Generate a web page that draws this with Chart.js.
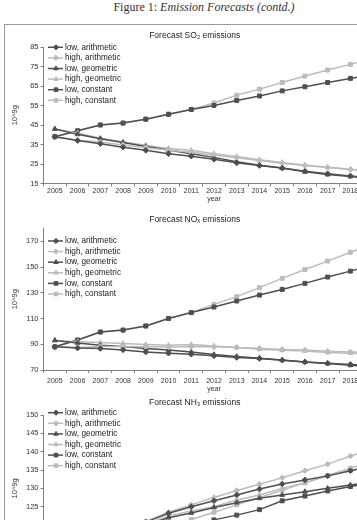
<!DOCTYPE html>
<html><head><meta charset="utf-8">
<script src="https://cdn.jsdelivr.net/npm/chart.js@4/dist/chart.umd.min.js"></script>
<style>
html,body{margin:0;padding:0;background:#fff;}
body{width:357px;height:520px;overflow:hidden;position:relative;}
#cap{position:absolute;left:0;top:0px;width:408px;text-align:center;font:12px "Liberation Serif","DejaVu Serif",serif;color:#333;white-space:nowrap;}
#frame{position:absolute;left:4px;top:24px;width:420px;height:600px;border:1px solid #9a9a9a;}
canvas{position:absolute;}
</style></head><body>
<div id="cap">Figure 1: <i>Emission Forecasts (contd.)</i></div>
<div id="frame"></div>
<canvas id="c1" width="390" height="180" style="left:5px;top:25px"></canvas>
<canvas id="c2" width="390" height="190" style="left:5px;top:205px"></canvas>
<canvas id="c3" width="390" height="200" style="left:5px;top:395px"></canvas>
<script>
// ---------- data ----------
const YEARS = ['2005','2006','2007','2008','2009','2010','2011','2012','2013','2014','2015','2016','2017','2018','2019'];
const SERIES_NAMES = ['low, arithmetic','high, arithmetic','low, geometric','high, geometric','low, constant','high, constant'];

const SO2_LOW_ARITH  = [39, 37.0, 35.4, 33.6, 32.0, 30.3, 29.0, 27.4, 25.6, 24.2, 22.9, 21.3, 20.0, 18.9, 17.8];
const SO2_HIGH_ARITH = [39, 37.2, 36.3, 34.8, 33.4, 32.0, 31.0, 29.6, 28.2, 26.8, 25.4, 24.2, 23.2, 22.2, 21.3];
const SO2_LOW_GEOM   = [43, 40.2, 38.0, 36.0, 34.0, 32.2, 30.2, 28.4, 26.2, 24.4, 22.9, 21.0, 19.6, 18.6, 17.6];
const SO2_HIGH_GEOM  = [43, 40.9, 38.2, 36.3, 34.6, 32.9, 32.0, 30.3, 28.8, 27.2, 25.8, 24.5, 23.3, 22.3, 21.4];
const SO2_LOW_CONST  = [39, 42.0, 45.0, 46.0, 48.0, 50.5, 53.0, 55.0, 57.6, 59.9, 62.5, 64.6, 66.8, 68.9, 71.0];
const SO2_HIGH_CONST = [39, 42.0, 45.0, 46.0, 48.0, 50.5, 53.0, 56.3, 60.3, 63.4, 66.8, 70.1, 73.2, 76.1, 79.5];
const SO2_TICKS = [15, 25, 35, 45, 55, 65, 75, 85];

const NOX_LOW_ARITH  = [88, 87.0, 86.7, 85.6, 84.0, 83.0, 82.2, 81.0, 79.7, 78.9, 77.6, 76.3, 75.3, 74.3, 73.5];
const NOX_HIGH_ARITH = [88, 87.5, 88.2, 88.2, 88.0, 87.8, 88.2, 88.0, 87.5, 86.8, 86.0, 85.5, 84.5, 84.0, 83.5];
const NOX_LOW_GEOM   = [93, 91.0, 89.2, 88.2, 86.7, 85.6, 84.0, 82.0, 80.5, 79.2, 77.8, 76.3, 75.0, 73.7, 72.5];
const NOX_HIGH_GEOM  = [93, 92.0, 91.3, 90.5, 89.8, 89.2, 89.8, 88.7, 87.5, 86.1, 85.3, 84.8, 83.5, 83.0, 82.5];
const NOX_LOW_CONST  = [88, 93.3, 99.5, 101.0, 104.2, 110.0, 114.6, 118.9, 123.6, 128.2, 132.6, 137.3, 142.2, 146.8, 151.5];
const NOX_HIGH_CONST = [88, 93.3, 99.5, 101.0, 104.2, 110.0, 114.6, 121.0, 127.0, 134.0, 141.2, 148.1, 154.6, 161.5, 168.0];
const NOX_TICKS = [70, 90, 110, 130, 150, 170];

const NH3_LOW_ARITH  = [112, 114.5, 116.5, 118.5, 120.8, 123.2, 125.0, 126.6, 128.2, 129.8, 131.2, 132.3, 133.4, 134.8, 136.2];
const NH3_HIGH_ARITH = [112, 114.5, 116.5, 118.5, 121.0, 123.5, 125.5, 127.5, 129.4, 131.1, 132.9, 134.8, 136.6, 138.8, 140.8];
const NH3_LOW_GEOM   = [112, 114.0, 116.0, 118.0, 120.0, 122.0, 123.3, 124.8, 126.1, 127.3, 128.2, 129.1, 130.0, 130.9, 131.8];
const NH3_HIGH_GEOM  = [112, 114.0, 116.0, 118.0, 120.3, 122.5, 123.8, 125.0, 126.8, 128.2, 130.0, 131.5, 133.4, 134.8, 136.4];
const NH3_LOW_CONST  = [110, 112.0, 114.0, 116.0, 117.0, 118.5, 120.0, 121.4, 122.7, 124.2, 126.6, 127.9, 129.3, 130.5, 131.5];
const NH3_HIGH_CONST = [110, 112.0, 114.0, 116.0, 117.5, 119.5, 121.5, 123.5, 125.5, 127.5, 129.5, 131.5, 133.5, 135.5, 137.5];
const NH3_TICKS = [110, 115, 120, 125, 130, 135, 140, 145, 150];

// ---------- style ----------
const FONT = '"Liberation Sans", Arimo, "DejaVu Sans", sans-serif';
const DARK = '#4f4f4f', LIGHT = '#bcbcbc';
const COLORS = [DARK, LIGHT, DARK, LIGHT, DARK, LIGHT];
const SHAPES = ['rectRot', 'rectRot', 'triangle', 'triangle', 'rect', 'rect'];

const refLegend = {
  id: 'refLegend',
  afterDatasetsDraw(chart, args, opts) {
    const ctx = chart.ctx, ca = chart.chartArea;
    ctx.save();
    chart.data.datasets.forEach((ds, i) => {
      const y = opts.y0 + i * opts.dy;
      const x0 = ca.left + 4.5;
      ctx.strokeStyle = ds.borderColor; ctx.lineWidth = 1.5;
      ctx.beginPath(); ctx.moveTo(x0, y); ctx.lineTo(x0 + 15, y); ctx.stroke();
      ctx.fillStyle = ds.borderColor; ctx.strokeStyle = ds.borderColor; ctx.lineWidth = 1;
      if (Chart.helpers && Chart.helpers.drawPoint) {
        Chart.helpers.drawPoint(ctx, {pointStyle: ds.pointStyle, radius: 2.6, rotation: 0, borderWidth: 1}, x0 + 8, y);
      } else {
        ctx.fillRect(x0 + 6, y - 2, 4, 4);
      }
      ctx.fillStyle = '#222'; ctx.font = '8.2px ' + FONT;
      ctx.textBaseline = 'middle'; ctx.textAlign = 'left';
      ctx.fillText(ds.label, x0 + 17, y);
    });
    ctx.restore();
  }
};

function makeChart(id, title, series, ticks, yMin, yMax, lay) {
  return new Chart(document.getElementById(id), {
    type: 'line',
    data: {
      labels: YEARS,
      datasets: series.map((vals, i) => ({
        label: SERIES_NAMES[i], data: vals,
        borderColor: COLORS[i], backgroundColor: COLORS[i],
        pointBackgroundColor: COLORS[i], pointBorderColor: COLORS[i],
        pointStyle: SHAPES[i], pointRadius: 2.8, pointBorderWidth: 1,
        borderWidth: 1.5, tension: 0, fill: false
      }))
    },
    options: {
      responsive: false, animation: false, devicePixelRatio: 1,
      layout: {padding: {left: 0, right: 10.5, top: 0, bottom: 0}},
      plugins: {
        legend: {display: false}, tooltip: {enabled: false},
        title: {display: true, text: title, color: '#222',
          font: {family: FONT, size: 8.5, weight: 'normal', lineHeight: 1.2},
          padding: {top: lay.tA, bottom: lay.tB}},
        refLegend: {y0: lay.legY, dy: 10.6}
      },
      scales: {
        x: {
          type: 'category', offset: true,
          grid: {offset: true, drawOnChartArea: false, drawTicks: true, tickLength: 3, color: '#808080'},
          border: {display: true, color: '#808080'},
          ticks: {color: '#333', font: {family: FONT, size: 7}, padding: lay.xPad, maxRotation: 0, autoSkip: false},
          title: {display: true, text: 'year', color: '#333', font: {family: FONT, size: 7, lineHeight: 1.2}, padding: {top: 0, bottom: lay.yearPad}},
          afterFit(s) { s.height = lay.xH; }
        },
        y: {
          min: yMin, max: yMax,
          afterBuildTicks(s) { s.ticks = ticks.map(v => ({value: v})); },
          grid: {drawOnChartArea: false, drawTicks: true, tickLength: 3, color: '#808080'},
          border: {display: true, color: '#808080'},
          ticks: {color: '#333', font: {family: FONT, size: 7.5}, padding: 2},
          title: {display: true, text: '10^9g', color: '#333', font: {family: FONT, size: 7.5, lineHeight: 1.2}, padding: {top: 5, bottom: 0}},
          afterFit(s) { s.width = 38.5; }
        }
      }
    },
    plugins: [refLegend]
  });
}

makeChart('c1', 'Forecast SO\u2082 emissions',
  [SO2_LOW_ARITH, SO2_HIGH_ARITH, SO2_LOW_GEOM, SO2_HIGH_GEOM, SO2_LOW_CONST, SO2_HIGH_CONST],
  SO2_TICKS, 15, 85, {tA: 5.9, tB: 5.9, xH: 21.5, xPad: 0.5, yearPad: 1.3, legY: 22.3});
makeChart('c2', 'Forecast NO\u2093 emissions',
  [NOX_LOW_ARITH, NOX_HIGH_ARITH, NOX_LOW_GEOM, NOX_HIGH_GEOM, NOX_LOW_CONST, NOX_HIGH_CONST],
  NOX_TICKS, 70, 180, {tA: 9.4, tB: 3.8, xH: 25, xPad: 4, yearPad: 1.8, legY: 36});
makeChart('c3', 'Forecast NH\u2083 emissions',
  [NH3_LOW_ARITH, NH3_HIGH_ARITH, NH3_LOW_GEOM, NH3_HIGH_GEOM, NH3_LOW_CONST, NH3_HIGH_CONST],
  NH3_TICKS, 110, 150, {tA: 2.9, tB: 6.9, xH: 33.3, xPad: 4, yearPad: 1.8, legY: 17.7});
</script>
</body></html>
